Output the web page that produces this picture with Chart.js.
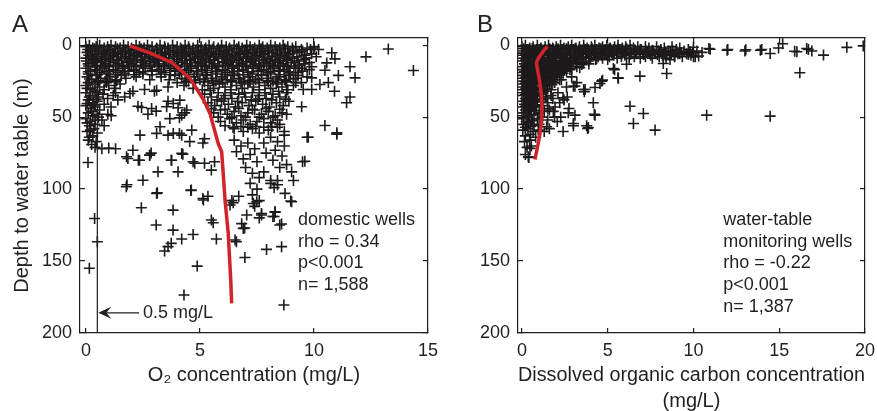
<!DOCTYPE html>
<html><head><meta charset="utf-8">
<script src="https://cdn.jsdelivr.net/npm/chart.js@4.4.1/dist/chart.umd.min.js"></script>
<style>
html,body{margin:0;padding:0;background:#fff;}
#wrap{position:relative;width:877px;height:411px;overflow:hidden;background:#fff;}
canvas{position:absolute;top:0;}
#ca{left:0;} #cb{left:440px;}
</style></head><body>
<div id="wrap"><canvas id="ca" width="440" height="411"></canvas><canvas id="cb" width="437" height="411"></canvas></div>
<script>
// ---------- tick labels ----------
const depthTicks = [0, 50, 100, 150, 200];
const o2Ticks = [0, 5, 10, 15];
const docTicks = [0, 5, 10, 15, 20];

// ---------- Panel A: domestic wells, [O2 mg/L, depth m] ----------
const aSurfaceBand = [
[0,1],[0.15,0],[0.3,2],[0.45,1],[0.6,0],[0.8,2],[0.95,1],[1.1,0],[1.3,1],[1.5,2],[1.65,0],[1.85,1],[2.0,2],[2.2,0],[2.35,1],[2.55,2],[2.7,0],[2.9,1],[3.1,2],[3.25,0],[3.45,1],[3.6,2],[3.8,0],[4.0,1],[4.15,2],[4.35,0],[4.5,1],[4.7,2],[4.9,0],[5.05,1],[5.25,2],[5.4,0],[5.6,1],[5.8,2],[5.95,0],[6.15,1],[6.3,2],[6.5,0],[6.7,1],[6.85,2],[7.05,0],[7.2,1],[7.4,2],[7.6,0],[7.75,1],[7.95,2],[8.1,0],[8.3,1],[8.5,2],[8.65,0],[8.85,1],[9.05,2],[9.2,1],[9.45,3],[9.7,2],[10.0,1],[10.2,3],
[0.05,5],[0.2,4],[0.4,6],[0.55,4],[0.75,5],[0.9,6],[1.05,4],[1.25,5],[1.4,6],[1.6,4],[1.75,5],[1.95,6],[2.1,4],[2.3,5],[2.45,6],[2.65,4],[2.8,5],[3.0,6],[3.15,4],[3.35,5],[3.5,6],[3.7,4],[3.9,5],[4.05,6],[4.25,4],[4.4,5],[4.6,6],[4.8,4],[4.95,5],[5.15,6],[5.3,4],[5.5,5],[5.7,6],[5.85,4],[6.05,5],[6.2,6],[6.4,4],[6.6,5],[6.75,6],[6.95,4],[7.1,5],[7.3,6],[7.5,4],[7.65,5],[7.85,6],[8.0,4],[8.2,5],[8.4,6],[8.55,4],[8.75,5],[8.95,6],[9.1,4],[9.35,5],[9.6,7],[9.9,6],[10.1,8],
[0,9],[0.25,8],[0.35,10],[0.5,9],[0.7,8],[0.85,10],[1.0,9],[1.2,8],[1.35,10],[1.55,9],[1.7,8],[1.9,10],[2.05,9],[2.25,8],[2.4,10],[2.6,9],[2.75,8],[2.95,10],[3.1,9],[3.3,8],[3.45,10],[3.65,9],[3.85,8],[4.0,10],[4.2,9],[4.35,8],[4.55,10],[4.75,9],[4.9,8],[5.1,10],[5.25,9],[5.45,8],[5.6,10],[5.8,9],[6.0,8],[6.15,10],[6.35,9],[6.5,8],[6.7,10],[6.9,9],[7.05,8],[7.25,10],[7.4,9],[7.6,8],[7.8,10],[7.95,9],[8.15,8],[8.3,10],[8.5,9],[8.7,8],[8.85,10],[9.05,9],[9.3,11],[9.55,10],[9.8,12],
[0.1,13],[0.3,12],[0.45,14],[0.65,12],[0.85,13],[1.0,14],[1.2,12],[1.45,13],[1.6,14],[1.85,12],[2.0,13],[2.2,14],[2.45,12],[2.6,13],[2.85,14],[3.0,12],[3.2,13],[3.4,14],[3.6,12],[3.85,13],[4.0,14],[4.2,12],[4.45,13],[4.6,14],[4.8,12],[5.05,13],[5.2,14],[5.4,12],[5.65,13],[5.8,14],[6.0,12],[6.25,13],[6.4,14],[6.6,12],[6.85,13],[7.0,14],[7.2,12],[7.45,13],[7.6,14],[7.8,12],[8.05,13],[8.2,14],[8.4,12],[8.65,13],[8.8,14],[9.0,12],[9.35,14],[9.6,13],[9.9,15]
];
const aSurfaceFill = [
[0.08,3],[0.38,2.5],[0.68,3.5],[1.02,3],[1.38,2.5],[1.72,3.5],[2.08,3],[2.42,2.5],[2.78,3.5],[3.12,3],[3.48,2.5],[3.82,3.5],[4.18,3],[4.52,2.5],[4.88,3.5],[5.22,3],[5.58,2.5],[5.92,3.5],[6.28,3],[6.62,2.5],[6.98,3.5],[7.32,3],[7.68,2.5],[8.02,3.5],[8.38,3],[8.72,2.5],[9.08,3.5],[9.5,4],[9.85,3],
[0.12,7],[0.48,6.5],[0.82,7.5],[1.18,7],[1.52,6.5],[1.88,7.5],[2.22,7],[2.58,6.5],[2.92,7.5],[3.28,7],[3.62,6.5],[3.98,7.5],[4.32,7],[4.68,6.5],[5.02,7.5],[5.38,7],[5.72,6.5],[6.08,7.5],[6.42,7],[6.78,6.5],[7.12,7.5],[7.48,7],[7.82,6.5],[8.18,7.5],[8.52,7],[8.88,6.5],[9.25,8],[9.65,9],
[0.02,11],[0.38,10.5],[0.72,11.5],[1.08,11],[1.42,10.5],[1.78,11.5],[2.12,11],[2.48,10.5],[2.82,11.5],[3.18,11],[3.52,10.5],[3.88,11.5],[4.22,11],[4.58,10.5],[4.92,11.5],[5.28,11],[5.62,10.5],[5.98,11.5],[6.32,11],[6.68,10.5],[7.02,11.5],[7.38,11],[7.72,10.5],[8.08,11.5],[8.42,11],[8.78,10.5],[9.15,12],
[0.12,14.5],[0.42,15],[0.72,14.5],[1.02,15],[1.32,14.5],[1.62,15],[1.92,14.5],[2.22,15],[2.52,14.5],[2.82,15],[3.12,14.5],[3.42,15],[3.72,14.5],[4.02,15],[4.32,14.5],[4.62,15],[4.92,14.5],[5.22,15],[5.52,14.5],[5.82,15],[6.12,14.5],[6.42,15],[6.72,14.5],[7.02,15],[7.32,14.5],[7.62,15],[7.92,14.5],[8.22,15],[8.52,14.5],[8.82,15],[9.12,14.5],[9.45,16],
[0.1,18.5],[0.5,17.5],[0.9,18.5],[1.3,17.5],[1.7,18.5],[2.1,17.5],[2.5,18.5],[2.9,17.5],[3.3,18.5],[3.7,17.5],[4.1,18.5],[4.5,17.5],[4.9,18.5],[5.3,17.5],[5.7,18.5],[6.1,17.5],[6.5,18.5],[6.9,17.5],[7.3,18.5],[7.7,17.5],[8.1,18.5],[8.5,17.5],[8.9,18.5],[9.3,19],
[0.1,20],[0.5,20.5],[0.9,20],[1.3,20.5],[1.7,20],[2.1,20.5],[2.5,20],[2.9,20.5],[3.3,20],[3.7,20.5],[4.1,20],[4.5,20.5],[4.9,20],[5.3,20.5],[5.7,20],[6.1,20.5],[6.5,20],[6.9,20.5],[7.3,20],[7.7,20.5],[8.1,20],[8.5,20.5],[8.9,20],[9.3,21],
[0.15,23.5],[0.55,24.5],[0.95,23.5],[1.35,24.5],[4.35,23.5],[4.75,24.5],[5.15,23.5],[5.55,24.5],[5.95,23.5],[6.35,24.5],[6.75,23.5],[7.15,24.5],[7.55,23.5],[7.95,24.5],[8.35,23.5],[8.75,24.5],[9.1,23.5],
[0.1,26],[0.5,25.5],[0.9,26],[1.3,25.5],[4.0,26],[4.4,25.5],[4.8,26],[5.2,25.5],[5.6,26.5],[6.0,26],[6.4,25.5],[6.8,26],[7.2,25.5],[7.6,26],[8.0,25.5],[8.4,26],[8.8,25.5],[9.2,26]
];
const aShallowBand = [
[0,16],[0.2,18],[0.4,17],[0.6,19],[0.8,16],[1.0,18],[1.2,17],[1.4,19],[1.6,16],[1.85,18],[2.1,17],[2.35,19],[2.6,16],[2.9,18],[3.2,17],[3.45,19],[3.7,16],[3.9,18],[4.15,17],[4.4,19],[4.6,16],[4.85,18],[5.1,17],[5.3,19],[5.55,16],[5.75,18],[6.0,17],[6.2,19],[6.45,16],[6.65,18],[6.9,17],[7.1,19],[7.35,16],[7.55,18],[7.8,17],[8.0,19],[8.25,16],[8.45,18],[8.7,17],[8.95,19],[9.2,16],[9.5,18],[9.8,17],
[0.05,22],[0.25,24],[0.45,21],[0.65,23],[0.85,25],[1.05,22],[1.3,24],[1.55,21],[1.75,23],[2.2,22],[2.8,24],[3.3,22],[3.65,24],[3.9,21],[4.2,23],[4.5,25],[4.75,22],[5.0,24],[5.25,21],[5.5,23],[5.7,25],[5.95,22],[6.2,24],[6.45,21],[6.7,23],[6.95,25],[7.2,22],[7.45,24],[7.7,21],[7.95,23],[8.2,25],[8.45,22],[8.7,24],[8.95,21],[9.2,23],[9.45,26],[9.7,22],
[0,28],[0.2,30],[0.4,27],[0.6,29],[0.8,31],[1.0,28],[1.25,30],[1.5,27],[2.06,32],[2.57,30.8],[3.0,32],[3.6,29],[4.3,28],[4.7,30],[5.1,31],[5.35,28],[5.6,30],[5.85,27],[6.1,29],[6.35,31],[6.6,28],[6.85,30],[7.1,27],[7.35,29],[7.6,31],[7.85,28],[8.1,30],[8.35,27],[8.6,29],[8.85,31],[9.1,28],[9.53,30.8],[9.9,30.8]
];
const aLeftColumn = [
[0,33],[0.2,35],[0.4,32],[0.55,36],[0.1,38],[0.3,40],[0.5,39],[0,42],[0.2,44],[0.4,43],[0.6,45],[0.1,47],[0.3,49],[0.5,48],[0,51],[0.2,53],[0.4,52],[0.15,56],[0.35,58],[0.05,60],[0.3,63],[0.1,66],[0.75,34],[0.95,37],[1.2,35],[1.4,38],[0.8,41],[1.1,43],[1.3,33],[1.7,36],[0.96,48],[1.11,49],[0.7,52],[0.8,56],
[0.05,30],[0.3,31],[0.5,33],[0.15,36],[0.45,37.5],[0.05,40.5],[0.35,41.5],[0.25,46],[0.55,50],[0.05,54],[0.4,55],[0.2,59],[0.5,61],[0.15,64],[0.45,67],[0.25,69]
];
const aMidCluster = [
[5.2,34],[5.5,36],[5.8,33],[6.1,35],[6.4,37],[6.7,34],[7.0,36],[7.3,33],[7.6,35],[7.9,37],[8.2,34],[8.5,36],[8.8,33],[5.35,40],[5.65,42],[5.95,39],[6.25,41],[6.55,43],[6.85,40],[7.15,42],[7.45,39],[7.75,41],[8.05,43],[8.35,40],[8.65,42],[8.9,39],[5.6,47],[5.9,45],[6.2,48],[6.5,46],[6.8,49],[7.1,47],[7.4,45],[7.7,48],[8.0,46],[8.3,49],[8.6,47],[5.9,53],[6.3,51],[6.6,54],[6.9,52],[7.2,55],[7.5,53],[7.8,51],[8.1,54],[8.4,52],[6.5,58],[6.9,60],[7.3,58],[7.6,61],[8.0,59],[8.4,57],[8.7,60],
[5.45,31.5],[5.75,38],[6.05,37],[6.35,33],[6.65,39],[6.95,33],[7.25,38],[7.55,37.5],[7.85,33],[8.15,38],[8.45,32],[8.75,37.5],[5.5,44],[5.8,50],[6.1,44.5],[6.4,50],[6.7,44],[7.0,50],[7.3,44.5],[7.6,50],[7.9,44],[8.2,50],[8.5,44.5],[8.8,48],[6.1,56],[6.45,57],[6.8,56.5],[7.1,57],[7.45,56.5],[7.8,57],[8.15,56.5],[8.5,55]
];
const aDeepCluster = [
[6.5,66],[6.8,70],[7.1,68],[7.4,72],[7.2,76],[6.9,79],[7.5,81],[6.6,74],[8.1,64],[8.4,67],[8.7,70],[8.3,73],[8.6,77],[8.2,80],[8.8,83],[8.5,85],[7.8,68],[7.9,75],[7.0,85],[7.3,89],[7.6,92],[7.2,96],[7.5,100],[7.3,104],[7.6,108],[7.4,112],[8.1,94],[8.4,97],[8.25,99],[7.8,88],[6.4,108],[6.7,105],[6.32,111],[6.46,109.5],[7.34,110],[7.49,108.8],[7.05,118],[7.7,117],[7.6,120],[8.29,115.8],[8.25,119],[8.58,124.3],[8.5,125],[6.83,124],[6.9,127.3],[6.96,127],[9.02,108.8],[8.73,103],[8.98,108.3],[9.02,88],[9.1,94],[9.6,80.6],[9.75,64],[11.0,61.8],[9.5,81],[8.7,62.5],[9.7,64]
];
const aScattered = [
[13.26,2.6],[14.36,17.6],[12.28,8.1],[11.58,15],[11.8,22.7],[11.07,21],[10.9,32],[11.58,36],[11.43,40],[10.78,5.3],[10.92,9.5],[10.56,12.3],[10.48,17.4],[10.63,26],[10.26,27.3],[9.9,22.7],[9.46,42.8],[10.48,55.8],[11.0,60.9],[10.0,2],
[1.93,33.6],[2.44,43.3],[2.88,44],[3.1,31.3],[3.54,42.8],[3.83,40.5],[4.12,38.2],[4.2,48.6],[4.42,45],[3.68,51],[3.25,56.7],[2.37,62.5],[3.1,61.3],[3.83,61.3],[4.2,62.5],[4.64,59],[4.2,75.2],[3.76,80],[4.7,81],[2.8,76.4],[2.3,80],[1.78,77.5],
[2.28,42.4],[2.72,48],[3.08,45.8],[3.6,39],[4.04,43.5],[4.33,47],[4.1,50.5],
[0.09,81.5],[0.4,71],[0.7,72],[1.0,71.5],[1.3,72],[1.77,98.4],[1.84,78.7],[2.06,73],[2.35,80],[2.79,76.5],[2.86,75],[2.5,93.8],[3.16,88],[3.13,102.5],[3.6,62.5],[4.1,61.3],[3.74,80],[4.25,75.7],[4.04,88],[4.77,82],[5.2,82],[4.62,100.7],[5.5,86.8],[5.64,81],[5.13,106.5],[5.35,105],[2.43,113],[3.82,114.6],[4.55,67],[5.13,68],[5.2,65],[3.08,125],[5.5,121.5],[0.38,120.4],[1.8,97],[3.1,103],[4.6,101],
[0.5,136.6],[0.15,155],[3.82,128.5],[4.7,131.5],[4.2,134.7],[3.74,137.7],[3.6,140],[3.45,143],[5.72,134.7],[5.58,123.4],[4.88,153.5],[4.3,173.6],[6.54,135.4],[6.6,136.6],[6.97,147.5],[7.92,141.9],[8.58,140],[8.68,180.5],[5.15,107.6],
[8.3,116],[8.2,119],[7.7,118],[8.1,96],[8.4,94]
];
const aTrendO2 = [1.93, 2.8, 3.76, 4.56, 5.15, 5.44, 5.58, 5.8, 5.95, 6.02, 6.1, 6.24, 6.35, 6.39];
const aTrendDepth = [0.5, 5.3, 12, 23, 37.7, 47.4, 55.6, 68.3, 74, 89, 107.6, 130.8, 163, 179.4];

// ---------- Panel B: water-table monitoring wells, [DOC mg/L, depth m] ----------
const bSurfaceBand = [
[0,1],[0.2,0],[0.45,2],[0.65,1],[0.9,0],[1.1,2],[1.35,1],[1.55,0],[1.8,2],[2.0,1],[2.25,0],[2.45,2],[2.7,1],[2.9,0],[3.15,2],[3.35,1],[3.6,0],[3.8,2],[4.05,1],[4.25,0],[4.5,2],[4.7,1],[4.95,0],[5.15,2],[5.4,1],[5.6,0],[5.85,2],[6.05,1],[6.3,0],[6.5,2],[6.75,1],[6.95,3],[7.2,1],[7.4,2],[7.65,4],[7.85,1],[8.1,3],[8.3,2],[8.55,4],[8.75,1],[9.0,3],[9.2,2],[9.45,4],[9.7,3],[9.95,5],[10.2,4],
[0.1,4],[0.3,3],[0.55,5],[0.75,4],[1.0,3],[1.2,5],[1.45,4],[1.65,3],[1.9,5],[2.1,4],[2.35,3],[2.55,5],[2.8,4],[3.0,3],[3.25,5],[3.45,4],[3.7,3],[3.9,5],[4.15,4],[4.35,3],[4.6,5],[4.8,4],[5.05,3],[5.25,5],[5.5,4],[5.7,3],[5.95,5],[6.15,4],[6.4,6],[6.6,5],[6.85,4],[7.05,6],[7.3,5],[7.5,7],[7.75,6],[8.0,5],[8.2,7],[8.45,6],[8.65,5],[8.9,7],[9.1,6],[9.35,8],[9.6,6],[9.85,7],[10.1,8],
[0,7],[0.2,6],[0.4,8],[0.6,7],[0.85,6],[1.05,8],[1.3,7],[1.5,6],[1.75,8],[1.95,7],[2.2,6],[2.4,8],[2.65,7],[2.85,6],[3.1,8],[3.3,7],[3.55,6],[3.75,8],[4.0,7],[4.2,6],[4.45,8],[4.65,7],[4.9,6],[5.1,8],[5.35,7],[5.55,9],[5.8,8],[6.0,7],[6.25,9],[6.55,8],[6.9,9],[7.2,8],[7.6,9],[8.0,8],[8.4,9],[8.9,8],
[0.1,2.5],[0.35,3],[0.6,2.5],[0.85,3],[1.1,2.5],[1.35,3],[1.6,2.5],[1.85,3],[2.1,2.5],[2.35,3],[2.6,2.5],[2.85,3],[3.1,2.5],[3.35,3],[3.6,2.5],[3.85,3],[4.1,2.5],[4.35,3],[4.6,2.5],[4.85,3],[5.1,2.5],[5.35,3],[5.6,2.5],[5.85,3],[6.1,2.5],[6.35,3],[6.6,3.5],[6.9,3],[7.25,4],[7.6,3.5],[7.95,4],[8.35,4.5],[8.8,4],[9.3,5],[9.8,4.5],
[0.05,5.5],[0.3,6],[0.55,5.5],[0.8,6],[1.05,5.5],[1.3,6],[1.55,5.5],[1.8,6],[2.05,5.5],[2.3,6],[2.55,5.5],[2.8,6],[3.05,5.5],[3.3,6],[3.55,5.5],[3.8,6],[4.05,5.5],[4.3,6],[4.55,5.5],[4.8,6],[5.05,5.5],[5.3,6],[5.55,5.5],[5.8,6],[6.05,5.5],[6.3,6.5],[6.7,6],[7.1,6.5],[7.5,6],[7.9,6.5],[8.3,6],[8.7,6.5],[9.2,6],[9.7,6.5]
];
const bWedge = [
[0.1,9],[0.4,8.5],[0.7,9.5],[1.0,9],[1.3,8.5],[1.6,9.5],[1.9,9],[2.2,8.5],[2.5,9.5],[2.8,9],[3.1,8.5],[3.4,9.5],[3.7,9],[4.0,8.5],[4.35,9.5],[4.7,9],[5.0,10],
[0,11],[0.25,10],[0.5,12],[0.75,11],[1.0,10],[1.25,12],[1.5,11],[1.75,10],[2.0,12],[2.25,11],[2.5,10],[2.75,12],[3.0,11],[3.3,10],[3.6,12],[3.9,11],[4.3,10],
[0.2,10.5],[0.55,11.5],[0.9,10.5],[1.2,11.5],[1.55,10.5],[1.9,11.5],[2.2,10.5],[2.55,11.5],[2.9,10.5],[3.2,11.5],
[0.15,13],[0.45,12.5],[0.75,13.5],[1.05,13],[1.35,12.5],[1.65,13.5],[1.95,13],[2.25,12.5],[2.55,13.5],[2.85,13],[3.15,12.5],[3.5,13.5],[3.9,13],
[0.1,15],[0.35,14],[0.6,16],[0.85,15],[1.1,14],[1.35,16],[1.6,15],[1.85,14],[2.1,16],[2.35,15],[2.6,14],[2.9,16],[3.2,15],
[0.2,14.5],[0.5,15.5],[0.8,14.5],[1.15,15.5],[1.45,14.5],[1.75,15.5],[2.05,14.5],[2.4,15.5],[2.75,14.5],
[0.05,17],[0.35,16.5],[0.65,17.5],[0.95,17],[1.25,16.5],[1.55,17.5],[1.85,17],[2.15,16.5],[2.45,17.5],[2.8,17],
[0,19],[0.25,18],[0.5,20],[0.75,19],[1.0,18],[1.25,20],[1.5,19],[1.75,18],[2.0,20],[2.3,19],[2.6,18],
[0.15,18.5],[0.45,19.5],[0.8,18.5],[1.1,19.5],[1.4,18.5],[1.7,19.5],[2.05,18.5],[2.4,19.5],
[0.05,21],[0.35,20.5],[0.65,21.5],[0.95,21],[1.25,20.5],[1.55,21.5],[1.85,21],[2.2,20.5],
[0.1,23],[0.35,22],[0.6,24],[0.85,23],[1.1,22],[1.35,24],[1.6,23],[1.9,22],[2.2,24],
[0.2,22.5],[0.5,23.5],[0.8,22.5],[1.15,23.5],[1.45,22.5],[1.75,23.5],[2.05,22.5],
[0.1,25],[0.45,24.5],[0.75,25.5],[1.05,25],[1.4,24.5],[1.75,25.5],
[0,27],[0.3,26],[0.55,28],[0.8,27],[1.05,26],[1.3,28],[1.6,27],[1.9,26],
[0.2,26.5],[0.5,27.5],[0.8,26.5],[1.15,27.5],[1.45,26.5],[1.75,27.5],
[0.05,29],[0.4,28.5],[0.7,29.5],[1.0,29],[1.3,28.5],
[0.1,31],[0.35,30],[0.6,32],[0.85,31],[1.1,30],[1.4,32],[1.7,31],
[0.2,30.5],[0.5,31.5],[0.8,30.5],[1.2,31.5],[1.5,30.5],
[0.1,33],[0.45,32.5],[0.75,33.5],[1.05,33],
[0,35],[0.3,34],[0.55,36],[0.8,35],[1.1,34],[1.4,36],[1.7,35],
[0.2,34.5],[0.5,35.5],[0.85,34.5],[1.2,35.5],
[0.2,37],[0.5,36.5],[0.8,37.5],[1.1,37],
[0.1,39],[0.35,38],[0.6,40],[0.9,39],[1.2,38],[1.5,40],
[0.25,38.5],[0.55,39.5],[0.85,38.5],[1.2,39.5],
[0.15,41],[0.45,40.5],[0.75,41.5],
[0,43],[0.3,42],[0.55,44],[0.85,43],[1.15,42],[1.5,44],
[0.2,42.5],[0.5,43.5],[0.8,42.5],
[0.2,45],[0.5,44.5],[0.8,45.5],
[0.1,47],[0.4,46],[0.7,48],[1.0,47],[1.3,46],
[0.1,49],[0.45,48.5],
[0,51],[0.3,50],[0.6,52],[0.9,51],[1.2,50],
[0.25,53],[0.55,52.5],
[0.1,55],[0.4,54],[0.7,56],[1.0,55],
[0.2,57],[0.5,56.5],
[0.05,59],[0.35,58],[0.65,60],[0.95,59],
[0.2,63],[0.5,62],[0.8,64],
[0.15,67],[0.45,66],
[0.3,71],[0.55,70],
[0.2,76],[0.4,78]
];
const bScattered = [
[6.3,42.4],[7.08,47.5],[6.5,54.4],[7.76,59],[4.22,48],[4.16,40],[3.83,57.9],[3.64,32.4],[2.4,60],[3.0,54.4],[3.09,48.6],[2.45,38],[2.64,36],[2.74,44],[2.26,50],[2.06,53],[1.83,46],[1.93,43],[1.44,56.7],[0.37,77.5],[0.47,71.7],
[10.77,48.6],[14.47,49.3],[16.2,19.2],[3.87,57.2],[4.26,48.6],[6.88,21.5],[8.44,19.7],[5.62,23],[5.33,16.2],[6.1,13.2],[3.68,30.8],[4.26,29.4],[4.7,24.3],[4.55,26.6],[3.09,28.5],[8.24,12.7],[8.63,10],[17.58,6.9],[18.94,1.5],[19.9,0.5],[16.9,4],[16.6,2.3],[16.03,4.6],[14.96,1.9],[14.47,5.8],[13.9,3.5],[13.98,3],[13.0,4],[13.05,3.2],[11.96,3.5],[12.0,3],[10.97,2.8],[10.9,2.3],[10.0,1.4],[10.0,8],[15.2,-1],[15.9,4.2],[16.7,3],[5.4,17],[5.6,22.7],[4.65,25],[3.6,30.8],[3.0,28.5],[2.4,36.6],[2.7,47],[3.77,56],[3.0,56],[3.37,15.7],[3.56,12.3],[10.5,5],[10.3,7.5],
[1.9,26],[2.3,24],[2.6,29],[2.1,33],[2.9,22],[3.2,26],[1.8,37],[2.2,40],[1.6,45],[1.9,50],[1.5,52],[1.3,60],[1.6,58]
];
const bTrendDoc = [1.48, 1.15, 0.86, 0.9, 1.05, 1.15, 1.15, 1.05, 0.76];
const bTrendDepth = [0.7, 5.8, 11.6, 16.2, 26.6, 38, 49.8, 61.3, 79.4];

// ---------- annotation texts ----------
const aNotes = ["domestic wells", "rho = 0.34", "p<0.001", "n= 1,588"];
const bNotes = ["water-table", "monitoring wells", "rho = -0.22", "p<0.001", "n= 1,387"];

// ---------- styling / helpers ----------
const FONT = "'Liberation Sans', Arial, Helvetica, sans-serif";
const INK = '#231f20';
const MARK = '#1c1a1b';
const RED = '#d0232a';
const toXY = arr => arr.map(([x, y]) => ({x, y}));
const zipXY = (xs, ys) => xs.map((x, i) => ({x, y: ys[i]}));

function fixBox(s, w, h) {
  if (w !== null) s.width = w;
  if (h !== null) s.height = h;
  s.paddingLeft = 0; s.paddingRight = 0; s.paddingTop = 0; s.paddingBottom = 0;
}

function scalesFor(xmin, xmax, xTickVals, yAxisW, xTitle, xTitleFont, xTitlePad, yTitle) {
  const border = {display: true, color: INK, width: 1.2};
  const grid = {drawOnChartArea: false, drawTicks: true, tickLength: -5, color: INK, lineWidth: 1.2};
  const setTicks = vals => (s => { s.ticks = vals.map(v => ({value: v})); });
  return {
    x: {type: 'linear', position: 'bottom', min: xmin, max: xmax, border, grid,
        afterBuildTicks: setTicks(xTickVals),
        ticks: {padding: 12, color: INK, font: {family: FONT, size: 18}, maxRotation: 0, autoSkip: false},
        title: {display: true, text: xTitle, color: INK, font: xTitleFont, padding: {top: 0, bottom: xTitlePad}},
        afterFit: s => fixBox(s, null, 78)},
    x2: {type: 'linear', position: 'top', min: xmin, max: xmax, border, grid,
        afterBuildTicks: setTicks(xTickVals), ticks: {display: false},
        afterFit: s => fixBox(s, null, 0)},
    y: {type: 'linear', position: 'left', reverse: true, min: -5, max: 200, border, grid,
        afterBuildTicks: setTicks(depthTicks),
        ticks: {padding: 13, color: INK, font: {family: FONT, size: 18}, autoSkip: false},
        title: {display: !!yTitle, text: yTitle || '', color: INK, font: {family: FONT, size: 20}, padding: {top: 10, bottom: 0}},
        afterFit: s => fixBox(s, yAxisW, null)},
    y2: {type: 'linear', position: 'right', reverse: true, min: -5, max: 200, border, grid,
        afterBuildTicks: setTicks(depthTicks), ticks: {display: false},
        afterFit: s => fixBox(s, 0, null)}
  };
}

function scatterSet(points) {
  return {type: 'scatter', data: toXY(points), pointStyle: 'cross', pointRadius: 5.5,
          pointBorderColor: MARK, pointBackgroundColor: MARK, pointBorderWidth: 1.6, showLine: false, order: 3};
}
function lineSet(data, color, width, tension, order) {
  return {type: 'line', data, borderColor: color, borderWidth: width, pointRadius: 0, fill: false, tension, borderCapStyle: 'butt', order};
}

function notesPlugin(letter, letterX, lines, xv, yv) {
  return {
    id: 'notes',
    afterDatasetsDraw(chart) {
      const {ctx, scales: {x, y}} = chart;
      ctx.save();
      ctx.fillStyle = INK;
      ctx.font = `18px ${FONT}`;
      ctx.textAlign = 'left';
      ctx.textBaseline = 'middle';
      const px = x.getPixelForValue(xv), py = y.getPixelForValue(yv);
      lines.forEach((t, i) => ctx.fillText(t, px, py + i * 21.7));
      ctx.font = `24px ${FONT}`;
      ctx.textBaseline = 'alphabetic';
      ctx.fillText(letter, letterX, 32);
      ctx.restore();
    }
  };
}

const arrowPlugin = {
  id: 'arrow',
  afterDatasetsDraw(chart) {
    const {ctx, scales: {x, y}} = chart;
    const tipX = x.getPixelForValue(0.5) + 1, py = y.getPixelForValue(186);
    const endX = x.getPixelForValue(2.33);
    ctx.save();
    ctx.strokeStyle = INK; ctx.fillStyle = INK; ctx.lineWidth = 1.2;
    ctx.beginPath(); ctx.moveTo(tipX + 6, py); ctx.lineTo(endX, py); ctx.stroke();
    ctx.beginPath();
    ctx.moveTo(tipX, py); ctx.lineTo(tipX + 13, py - 6); ctx.lineTo(tipX + 8, py);
    ctx.lineTo(tipX + 13, py + 6); ctx.closePath(); ctx.fill();
    ctx.font = `18px ${FONT}`; ctx.textAlign = 'left'; ctx.textBaseline = 'middle';
    ctx.fillText('0.5 mg/L', x.getPixelForValue(2.5), py);
    ctx.restore();
  }
};

const common = {
  responsive: false, animation: false, devicePixelRatio: 1,
  plugins: {legend: {display: false}, tooltip: {enabled: false}}
};

new Chart(document.getElementById('ca'), {
  data: {datasets: [
    lineSet(zipXY(aTrendO2, aTrendDepth), RED, 3.5, 0, 1),
    lineSet([{x: 0.5, y: -5}, {x: 0.5, y: 200}], INK, 1.2, 0, 2),
    scatterSet([...aSurfaceBand, ...aSurfaceFill, ...aShallowBand, ...aLeftColumn, ...aMidCluster, ...aDeepCluster, ...aScattered])
  ]},
  options: Object.assign({}, common, {
    layout: {padding: {left: 0, right: 12, top: 38, bottom: 0}},
    scales: scalesFor(-0.26, 15, o2Ticks, 80, 'O\u2082 concentration (mg/L)',
                      {family: FONT, size: 20, lineHeight: 1.25}, 23, 'Depth to water table (m)')
  }),
  plugins: [notesPlugin('A', 12, aNotes, 9.3, 121.5), arrowPlugin]
});

new Chart(document.getElementById('cb'), {
  data: {datasets: [
    lineSet(zipXY(bTrendDoc, bTrendDepth), RED, 3.5, 0.4, 1),
    scatterSet([...bSurfaceBand, ...bWedge, ...bScattered])
  ]},
  options: Object.assign({}, common, {
    layout: {padding: {left: 0, right: 12, top: 38, bottom: 0}},
    scales: scalesFor(-0.23, 20, docTicks, 78, ['Dissolved organic carbon concentration', '(mg/L)'],
                      {family: FONT, size: 20, lineHeight: 1.3}, -3, null)
  }),
  plugins: [notesPlugin('B', 37, bNotes, 11.73, 121.5)]
});
</script>
</body></html>
